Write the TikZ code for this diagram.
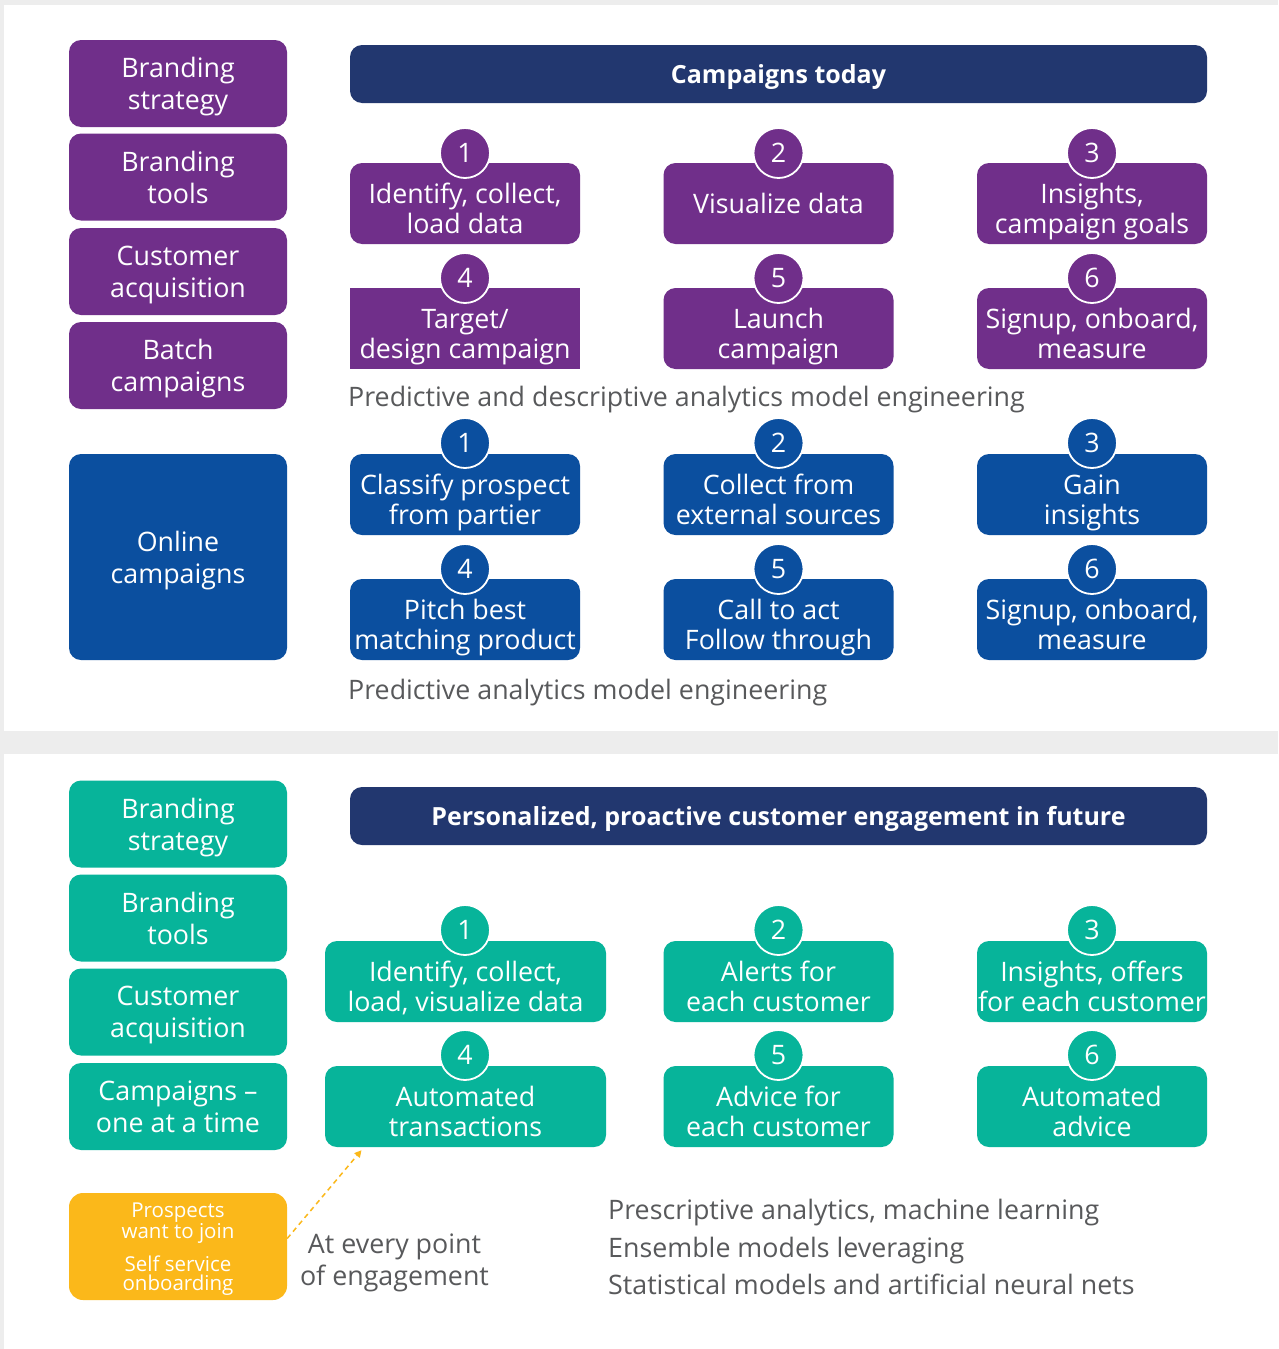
\documentclass[tikz,border=0pt]{standalone}
\usepackage{fontspec}
\setmainfont{Open Sans}
\usetikzlibrary{arrows.meta}
\definecolor{pagegray}{HTML}{EDEDED}
\definecolor{purp}{HTML}{702F8A}
\definecolor{navy}{HTML}{22376F}
\definecolor{ocean}{HTML}{0B4F9F}
\definecolor{teal}{HTML}{07B49A}
\definecolor{sun}{HTML}{FBB81A}
\definecolor{txtgray}{HTML}{58595B}
\tikzset{
  blk/.style={rounded corners=12pt, inner sep=0pt, align=center, text=white, text depth=0pt,
    font=\fontsize{26.8}{30}\selectfont},
  side/.style={blk, minimum width=218pt, minimum height=87pt, font=\fontsize{26.8}{32}\selectfont},
  stepbase/.style={blk, minimum width=230pt, minimum height=81pt},
  stepbox/.style={stepbase, text height=60pt},
  num/.style={circle, draw=white, line width=1.8pt, minimum size=50pt, inner sep=0pt,
    text=white, font=\fontsize{26.8}{30}\selectfont},
  banner/.style={rounded corners=12pt, fill=navy, minimum width=857pt, minimum height=58pt,
    text=white, text depth=0pt, font=\bfseries\fontsize{25}{30}\selectfont},
  note/.style={text=txtgray, inner sep=0pt, font=\fontsize{26.8}{30}\selectfont},
}
\begin{document}
\begin{tikzpicture}[x=1pt, y=-1pt]
        \useasboundingbox (0,0) rectangle (1278,1349);
        \fill [pagegray] (0,0) rectangle (1278,1349);
        \fill [white] (4,5) rectangle (1278,731);
        \fill [white] (4,754) rectangle (1278,1349);
        % today: purple track
        \node [side, fill=purp] (bStrat) at (178,83.5) {Branding\\strategy};
        \node [side, fill=purp] (bTools) at (178,177) {Branding\\tools};
        \node [side, fill=purp] (cAcq) at (178,271.5) {Customer\\acquisition};
        \node [side, fill=purp] (batch) at (178,365.5) {Batch\\campaigns};
        \node [banner] (today) at (778.5,74) {Campaigns today};
        \node [stepbox, fill=purp] (p1) at (465,203.5) {Identify, collect,\\load data};
        \node [stepbase, fill=purp] (p2) at (778.5,203.5) {Visualize data};
        \node [stepbox, fill=purp] (p3) at (1092,203.5) {Insights,\\campaign goals};
        \node [stepbox, fill=purp, sharp corners] (p4) at (465,328.5) {Target/\\design campaign};
        \node [stepbox, fill=purp] (p5) at (778.5,328.5) {Launch\\campaign};
        \node [stepbox, fill=purp] (p6) at (1092,328.5) {Signup, onboard,\\measure};
        \node [num, fill=purp] (pn1) at (465,153) {1};
        \node [num, fill=purp] (pn2) at (778.5,153) {2};
        \node [num, fill=purp] (pn3) at (1092,153) {3};
        \node [num, fill=purp] (pn4) at (465,278) {4};
        \node [num, fill=purp] (pn5) at (778.5,278) {5};
        \node [num, fill=purp] (pn6) at (1092,278) {6};
        \node [note, anchor=base west] (descr) at (348,406) {Predictive and descriptive analytics model engineering};
        % today: online track
        \node [side, fill=ocean, minimum height=206pt] (online) at (178,557) {Online\\campaigns};
        \node [stepbox, fill=ocean] (o1) at (465,494.5) {Classify prospect\\from partier};
        \node [stepbox, fill=ocean] (o2) at (778.5,494.5) {Collect from\\external sources};
        \node [stepbox, fill=ocean] (o3) at (1092,494.5) {Gain\\insights};
        \node [stepbox, fill=ocean] (o4) at (465,619.5) {Pitch best\\matching product};
        \node [stepbox, fill=ocean] (o5) at (778.5,619.5) {Call to act\\Follow through};
        \node [stepbox, fill=ocean] (o6) at (1092,619.5) {Signup, onboard,\\measure};
        \node [num, fill=ocean] (on1) at (465,443) {1};
        \node [num, fill=ocean] (on2) at (778.5,443) {2};
        \node [num, fill=ocean] (on3) at (1092,443) {3};
        \node [num, fill=ocean] (on4) at (465,569) {4};
        \node [num, fill=ocean] (on5) at (778.5,569) {5};
        \node [num, fill=ocean] (on6) at (1092,569) {6};
        \node [note, anchor=base west] (pred) at (348,699) {Predictive analytics model engineering};
        % future
        \node [side, fill=teal] (fStrat) at (178,824) {Branding\\strategy};
        \node [side, fill=teal] (fTools) at (178,918) {Branding\\tools};
        \node [side, fill=teal] (fAcq) at (178,1012) {Customer\\acquisition};
        \node [side, fill=teal] (fOne) at (178,1106.5) {Campaigns --\\one at a time};
        \node [banner] (future) at (778.5,816) {Personalized, proactive customer engagement in future};
        \node [stepbox, fill=teal, minimum width=281pt] (t1) at (465.5,981.5) {Identify, collect,\\load, visualize data};
        \node [stepbox, fill=teal] (t2) at (778.5,981.5) {Alerts for\\each customer};
        \node [stepbox, fill=teal] (t3) at (1092,981.5) {Insights, offers\\for each customer};
        \node [stepbox, fill=teal, minimum width=281pt] (t4) at (465.5,1106.5) {Automated\\transactions};
        \node [stepbox, fill=teal] (t5) at (778.5,1106.5) {Advice for\\each customer};
        \node [stepbox, fill=teal] (t6) at (1092,1106.5) {Automated\\advice};
        \node [num, fill=teal] (tn1) at (465,930) {1};
        \node [num, fill=teal] (tn2) at (778.5,930) {2};
        \node [num, fill=teal] (tn3) at (1092,930) {3};
        \node [num, fill=teal] (tn4) at (465,1055) {4};
        \node [num, fill=teal] (tn5) at (778.5,1055) {5};
        \node [num, fill=teal] (tn6) at (1092,1055) {6};
        \node [blk, fill=sun, rounded corners=14pt, minimum width=218pt, minimum height=107pt,
          font=\fontsize{20.5}{19}\selectfont] (join) at (178,1246.5)
          {Prospects\\want to join\\[12pt]Self service\\onboarding};
        \draw [sun, line width=1.5pt, dash pattern=on 5pt off 4pt, -{Triangle[length=7pt,width=7pt]}]
          ([yshift=8pt]join.east) -- ([xshift=-104pt,yshift=-3pt]t4.south);
        \node [note, align=center, font=\fontsize{26.8}{32}\selectfont] (every) at (394.5,1263) {At every point\\of engagement};
        \node [note, anchor=west, align=left, font=\fontsize{26.8}{37.5}\selectfont] (methods) at (608,1247)
          {Prescriptive analytics, machine learning\\Ensemble models leveraging\\Statistical models and artificial neural nets};
\end{tikzpicture}
\end{document}
